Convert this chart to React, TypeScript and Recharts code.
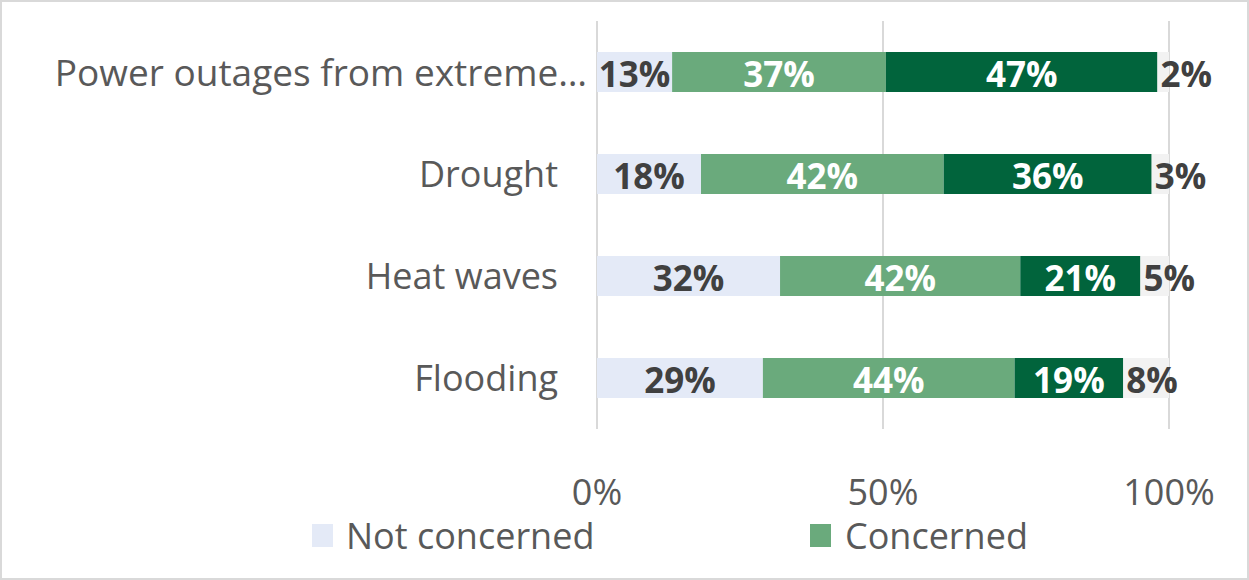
import React from "react";
import { BarChart, Bar, XAxis, YAxis, CartesianGrid, LabelList } from "recharts";

const categories = ["Power outages from extreme…", "Drought", "Heat waves", "Flooding"];
const notConcerned = [13, 18, 32, 29];
const concerned = [37, 42, 42, 44];
const veryConcerned = [47, 36, 21, 19];
const dontKnow = [2, 3, 5, 8];
const xTicks = [0, 0.5, 1];
const xTickLabels = ["0%", "50%", "100%"];
const legendNames = ["Not concerned", "Concerned"];

const data = categories.map((c, i) => ({
  name: c,
  nc: notConcerned[i],
  c: concerned[i],
  vc: veryConcerned[i],
  dk: dontKnow[i],
}));

const COLORS = { nc: "#E4EAF7", c: "#6AAA7C", vc: "#01643C", dk: "#F2F2F2" };
const LABEL_FONT = "'Open Sans', sans-serif";
const TEXT_FONT = "'Open Sans', sans-serif";
const LABEL_SIZE = 35;

const centerLabel = (values: number[], color: string) => (props: any) => {
  const { x, y, width, height, index } = props;
  return (
    <text
      x={Number(x) + Number(width) / 2}
      y={Number(y) + Number(height) / 2 + 1}
      textAnchor="middle"
      dominantBaseline="central"
      fill={color}
      fontFamily={LABEL_FONT}
      fontWeight="bold"
      fontSize={LABEL_SIZE}
    >
      {values[index]}%
    </text>
  );
};

const startLabel = (values: number[], color: string) => (props: any) => {
  const { x, y, height, index } = props;
  return (
    <text
      x={Number(x) + 3}
      y={Number(y) + Number(height) / 2 + 1}
      textAnchor="start"
      dominantBaseline="central"
      fill={color}
      fontFamily={LABEL_FONT}
      fontWeight="bold"
      fontSize={LABEL_SIZE}
    >
      {values[index]}%
    </text>
  );
};

const YTick = (props: any) => {
  const { x, y, payload } = props;
  const long = String(payload.value).length > 20;
  return (
    <text
      x={Number(x) - (long ? 4 : 33)}
      y={Number(y) - 1}
      textAnchor="end"
      dominantBaseline="central"
      fill="#595959"
      fontFamily={TEXT_FONT}
      fontSize={long ? 37 : 36}
    >
      {payload.value}
    </text>
  );
};

const XTick = (props: any) => {
  const { x, y, index } = props;
  return (
    <text
      x={Number(x)}
      y={Number(y) + 56}
      textAnchor="middle"
      dominantBaseline="central"
      fill="#595959"
      fontFamily={TEXT_FONT}
      fontSize={36}
    >
      {xTickLabels[index]}
    </text>
  );
};

export default function App() {
  return (
    <div style={{ position: "absolute", left: 0, top: 0, width: 1249, height: 580, background: "#fff" }}>
      <BarChart
        width={1249}
        height={580}
        data={data}
        layout="vertical"
        stackOffset="expand"
        margin={{ top: 21, right: 80, bottom: 91, left: 0 }}
      >
        <CartesianGrid horizontal={false} stroke="#D9D9D9" strokeWidth={2} />
        <XAxis
          type="number"
          domain={[0, 1]}
          ticks={xTicks}
          axisLine={false}
          tickLine={false}
          tickMargin={0}
          height={60}
          tick={<XTick />}
          interval={0}
        />
        <YAxis
          type="category"
          dataKey="name"
          width={597}
          axisLine={false}
          tickLine={false}
          tickMargin={0}
          tick={<YTick />}
          interval={0}
        />
        <Bar dataKey="nc" name={legendNames[0]} stackId="s" fill={COLORS.nc} barSize={40} isAnimationActive={false}>
          <LabelList dataKey="nc" content={centerLabel(notConcerned, "#404040")} />
        </Bar>
        <Bar dataKey="c" name={legendNames[1]} stackId="s" fill={COLORS.c} barSize={40} isAnimationActive={false}>
          <LabelList dataKey="c" content={centerLabel(concerned, "#FFFFFF")} />
        </Bar>
        <Bar dataKey="vc" name="Very concerned" stackId="s" fill={COLORS.vc} barSize={40} legendType="none" isAnimationActive={false}>
          <LabelList dataKey="vc" content={centerLabel(veryConcerned, "#FFFFFF")} />
        </Bar>
        <Bar dataKey="dk" name="Don't know" stackId="s" fill={COLORS.dk} barSize={40} legendType="none" isAnimationActive={false}>
          <LabelList dataKey="dk" content={startLabel(dontKnow, "#404040")} />
        </Bar>
      </BarChart>
      <div style={{ position: "absolute", left: 312, top: 524, width: 21, height: 23, background: COLORS.nc }} />
      <div
        style={{
          position: "absolute",
          left: 346,
          top: 519,
          fontFamily: TEXT_FONT,
          fontSize: 36,
          color: "#595959",
          lineHeight: "34px",
          whiteSpace: "nowrap",
        }}
      >
        {legendNames[0]}
      </div>
      <div style={{ position: "absolute", left: 810, top: 524, width: 21, height: 23, background: COLORS.c }} />
      <div
        style={{
          position: "absolute",
          left: 845,
          top: 519,
          fontFamily: TEXT_FONT,
          fontSize: 36,
          color: "#595959",
          lineHeight: "34px",
          whiteSpace: "nowrap",
        }}
      >
        {legendNames[1]}
      </div>
      <div
        style={{
          position: "absolute",
          left: 0,
          top: 0,
          width: 1249,
          height: 580,
          boxSizing: "border-box",
          border: "2px solid #D9D9D9",
          pointerEvents: "none",
        }}
      />
    </div>
  );
}
